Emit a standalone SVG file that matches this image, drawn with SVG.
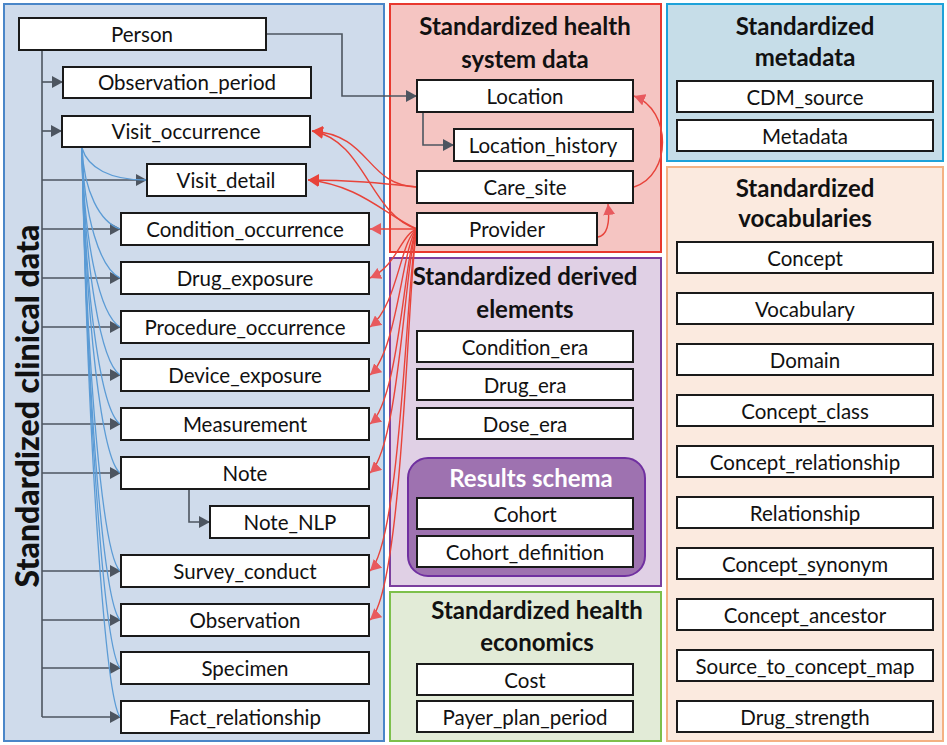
<svg xmlns="http://www.w3.org/2000/svg" width="947" height="745" viewBox="0 0 947 745">
<style>
.nd{fill:#fff;stroke:#1a1a1a;stroke-width:2}
.t{font-family:Lato,"Open Sans","Liberation Sans",sans-serif;font-size:20.5px;fill:#111;text-anchor:middle;dominant-baseline:central}
.h{font-family:Lato,"Open Sans","Liberation Sans",sans-serif;font-size:24px;font-weight:bold;fill:#111;text-anchor:middle}
.g{fill:none;stroke:#4d5560;stroke-width:1.6}
.b{fill:none;stroke:#5b9bd5;stroke-width:1.3}
.r{fill:none;stroke:#e8433a;stroke-width:1.4}
</style>
<defs>
<marker id="ag" markerUnits="userSpaceOnUse" markerWidth="12" markerHeight="12" refX="11" refY="6" orient="auto"><path d="M0,0 L11,6 L0,12 z" fill="#4d5560"/></marker>
<marker id="ar" markerUnits="userSpaceOnUse" markerWidth="12" markerHeight="12" refX="11" refY="6" orient="auto"><path d="M0,0 L11,6 L0,12 z" fill="#e8433a"/></marker>
<marker id="ap" markerUnits="userSpaceOnUse" markerWidth="12" markerHeight="12" refX="11" refY="6" orient="auto"><path d="M0,0 L11,6 L0,12 z" fill="#e85a5e"/></marker>
</defs>
<rect width="947" height="745" fill="#fff"/>
<g id="panels">
<rect x="4" y="4" width="380" height="737" fill="#cfdbeb" stroke="#4a86c8" stroke-width="2"/>
<rect x="390" y="4" width="271" height="248" fill="#f5c5c2" stroke="#e8382e" stroke-width="2"/>
<rect x="667" y="4" width="276" height="157" fill="#c6dde8" stroke="#1ea2d9" stroke-width="2"/>
<rect x="667" y="167" width="276" height="574" fill="#fbeadf" stroke="#f4b183" stroke-width="2"/>
<rect x="390" y="258" width="271" height="328" fill="#e0d0e5" stroke="#7b3f9e" stroke-width="2"/>
<rect x="390" y="592" width="271" height="149" fill="#e2ebd7" stroke="#7dc04b" stroke-width="2"/>
<rect x="408" y="458" width="237" height="118" rx="20" fill="#9e72b0" stroke="#7030a0" stroke-width="2"/>
<text class="h" transform="translate(39,406) rotate(-90)" style="font-size:32px;font-weight:900">Standardized clinical data</text>
<text class="h" x="525" y="35">Standardized health</text>
<text class="h" x="525" y="68">system data</text>
<text class="h" x="805" y="35">Standardized</text>
<text class="h" x="805" y="66">metadata</text>
<text class="h" x="805" y="197">Standardized</text>
<text class="h" x="805" y="227">vocabularies</text>
<text class="h" x="525" y="285">Standardized derived</text>
<text class="h" x="525" y="318">elements</text>
<text class="h" x="531" y="487" style="fill:#fff">Results schema</text>
<text class="h" x="537" y="619">Standardized health</text>
<text class="h" x="537" y="651">economics</text>
</g>
<g id="connectors">
<path class="g" d="M42,50 V717"/>
<path class="g" marker-end="url(#ag)" d="M42,82 H63"/>
<path class="g" marker-end="url(#ag)" d="M42,131 H62"/>
<path class="g" marker-end="url(#ag)" d="M42,180 H147"/>
<path class="g" marker-end="url(#ag)" d="M42,229 H121"/>
<path class="g" marker-end="url(#ag)" d="M42,278 H121"/>
<path class="g" marker-end="url(#ag)" d="M42,327 H121"/>
<path class="g" marker-end="url(#ag)" d="M42,375 H121"/>
<path class="g" marker-end="url(#ag)" d="M42,424 H121"/>
<path class="g" marker-end="url(#ag)" d="M42,473 H121"/>
<path class="g" marker-end="url(#ag)" d="M42,571 H121"/>
<path class="g" marker-end="url(#ag)" d="M42,620 H121"/>
<path class="g" marker-end="url(#ag)" d="M42,668 H121"/>
<path class="g" marker-end="url(#ag)" d="M42,717 H121"/>
<path class="g" marker-end="url(#ag)" d="M189,489 V522 H210"/>
<path class="g" marker-end="url(#ag)" d="M266,34 H342 V96 H417"/>
<path class="g" marker-end="url(#ag)" d="M423,112 V145 H454"/>
<path class="b" d="M82,148 C88,168 110,180 146,180"/>
<path class="b" d="M82,148 C84,192 100,222 120,229"/>
<path class="b" d="M82,148 C84,218 100,268 120,278"/>
<path class="b" d="M82,148 C84,245 100,315 120,327"/>
<path class="b" d="M82,148 C85,272 101,362 120,375"/>
<path class="b" d="M82,148 C85,299 101,410 120,424"/>
<path class="b" d="M82,148 C86,326 102,458 120,473"/>
<path class="b" d="M82,148 C87,380 103,555 120,571"/>
<path class="b" d="M82,148 C87,407 104,603 120,620"/>
<path class="b" d="M82,148 C88,434 105,650 120,668"/>
<path class="b" d="M82,148 C88,461 106,698 120,717"/>
<path class="r" marker-end="url(#ar)" d="M417,187 C365,185 372,135 312,131"/>
<path class="r" marker-end="url(#ar)" d="M417,187 C380,183 350,180 308,180"/>
<path class="r" marker-end="url(#ar)" d="M417,229 C370,215 365,140 312,131"/>
<path class="r" marker-end="url(#ar)" d="M417,229 C385,215 360,185 308,180"/>
<path class="r" marker-end="url(#ap)" d="M417,229 H370"/>
<path class="r" marker-end="url(#ap)" d="M417,229 C400,235 398,265 370,278"/>
<path class="r" marker-end="url(#ap)" d="M417,229 C400,240 398,305 370,327"/>
<path class="r" marker-end="url(#ap)" d="M417,229 C402,245 398,350 370,375"/>
<path class="r" marker-end="url(#ap)" d="M417,229 C404,250 400,400 370,424"/>
<path class="r" marker-end="url(#ap)" d="M417,229 C405,255 400,445 370,473"/>
<path class="r" marker-end="url(#ap)" d="M417,229 C407,260 402,540 370,571"/>
<path class="r" marker-end="url(#ap)" d="M417,229 C408,262 404,590 370,620"/>
<path class="r" marker-end="url(#ap)" d="M598,237 C608,235 610,222 608,204"/>
<path class="r" marker-end="url(#ap)" d="M634,187 C672,175 672,110 634,96"/>
</g>
<g id="person"><rect class="nd" x="19" y="18" width="247" height="32"/><text class="t" x="142" y="34">Person</text></g>
<g id="observation_period"><rect class="nd" x="63" y="67" width="248" height="31"/><text class="t" x="187" y="82">Observation_period</text></g>
<g id="visit_occurrence"><rect class="nd" x="62" y="116" width="248" height="31"/><text class="t" x="186" y="131">Visit_occurrence</text></g>
<g id="visit_detail"><rect class="nd" x="147" y="164" width="159" height="32"/><text class="t" x="226" y="180">Visit_detail</text></g>
<g id="condition_occurrence"><rect class="nd" x="121" y="213" width="248" height="32"/><text class="t" x="245" y="229">Condition_occurrence</text></g>
<g id="drug_exposure"><rect class="nd" x="121" y="262" width="248" height="32"/><text class="t" x="245" y="278">Drug_exposure</text></g>
<g id="procedure_occurrence"><rect class="nd" x="121" y="311" width="248" height="32"/><text class="t" x="245" y="327">Procedure_occurrence</text></g>
<g id="device_exposure"><rect class="nd" x="121" y="359" width="248" height="32"/><text class="t" x="245" y="375">Device_exposure</text></g>
<g id="measurement"><rect class="nd" x="121" y="408" width="248" height="32"/><text class="t" x="245" y="424">Measurement</text></g>
<g id="note"><rect class="nd" x="121" y="457" width="248" height="32"/><text class="t" x="245" y="473">Note</text></g>
<g id="note_nlp"><rect class="nd" x="210" y="506" width="159" height="32"/><text class="t" x="290" y="522">Note_NLP</text></g>
<g id="survey_conduct"><rect class="nd" x="121" y="555" width="248" height="32"/><text class="t" x="245" y="571">Survey_conduct</text></g>
<g id="observation"><rect class="nd" x="121" y="604" width="248" height="32"/><text class="t" x="245" y="620">Observation</text></g>
<g id="specimen"><rect class="nd" x="121" y="652" width="248" height="32"/><text class="t" x="245" y="668">Specimen</text></g>
<g id="fact_relationship"><rect class="nd" x="121" y="701" width="248" height="32"/><text class="t" x="245" y="717">Fact_relationship</text></g>
<g id="location"><rect class="nd" x="417" y="80" width="216" height="32"/><text class="t" x="525" y="96">Location</text></g>
<g id="location_history"><rect class="nd" x="454" y="129" width="179" height="32"/><text class="t" x="543" y="145">Location_history</text></g>
<g id="care_site"><rect class="nd" x="417" y="171" width="216" height="32"/><text class="t" x="525" y="187">Care_site</text></g>
<g id="provider"><rect class="nd" x="417" y="213" width="180" height="32"/><text class="t" x="507" y="229">Provider</text></g>
<g id="condition_era"><rect class="nd" x="417" y="331" width="216" height="31"/><text class="t" x="525" y="347">Condition_era</text></g>
<g id="drug_era"><rect class="nd" x="417" y="369" width="216" height="31"/><text class="t" x="525" y="385">Drug_era</text></g>
<g id="dose_era"><rect class="nd" x="417" y="408" width="216" height="31"/><text class="t" x="525" y="424">Dose_era</text></g>
<g id="cohort"><rect class="nd" x="417" y="498" width="216" height="31"/><text class="t" x="525" y="514">Cohort</text></g>
<g id="cohort_definition"><rect class="nd" x="417" y="536" width="216" height="31"/><text class="t" x="525" y="552">Cohort_definition</text></g>
<g id="cost"><rect class="nd" x="417" y="664" width="216" height="31"/><text class="t" x="525" y="680">Cost</text></g>
<g id="payer_plan_period"><rect class="nd" x="417" y="701" width="216" height="31"/><text class="t" x="525" y="717">Payer_plan_period</text></g>
<g id="cdm_source"><rect class="nd" x="677" y="81" width="256" height="31"/><text class="t" x="805" y="97">CDM_source</text></g>
<g id="metadata"><rect class="nd" x="677" y="120" width="256" height="31"/><text class="t" x="805" y="136">Metadata</text></g>
<g id="concept"><rect class="nd" x="677" y="242" width="256" height="31"/><text class="t" x="805" y="258">Concept</text></g>
<g id="vocabulary"><rect class="nd" x="677" y="293" width="256" height="31"/><text class="t" x="805" y="309">Vocabulary</text></g>
<g id="domain"><rect class="nd" x="677" y="344" width="256" height="31"/><text class="t" x="805" y="360">Domain</text></g>
<g id="concept_class"><rect class="nd" x="677" y="395" width="256" height="31"/><text class="t" x="805" y="411">Concept_class</text></g>
<g id="concept_relationship"><rect class="nd" x="677" y="446" width="256" height="31"/><text class="t" x="805" y="462">Concept_relationship</text></g>
<g id="relationship"><rect class="nd" x="677" y="497" width="256" height="31"/><text class="t" x="805" y="513">Relationship</text></g>
<g id="concept_synonym"><rect class="nd" x="677" y="548" width="256" height="31"/><text class="t" x="805" y="564">Concept_synonym</text></g>
<g id="concept_ancestor"><rect class="nd" x="677" y="599" width="256" height="31"/><text class="t" x="805" y="615">Concept_ancestor</text></g>
<g id="source_to_concept_map"><rect class="nd" x="677" y="650" width="256" height="31"/><text class="t" x="805" y="666">Source_to_concept_map</text></g>
<g id="drug_strength"><rect class="nd" x="677" y="701" width="256" height="31"/><text class="t" x="805" y="717">Drug_strength</text></g>
</svg>
